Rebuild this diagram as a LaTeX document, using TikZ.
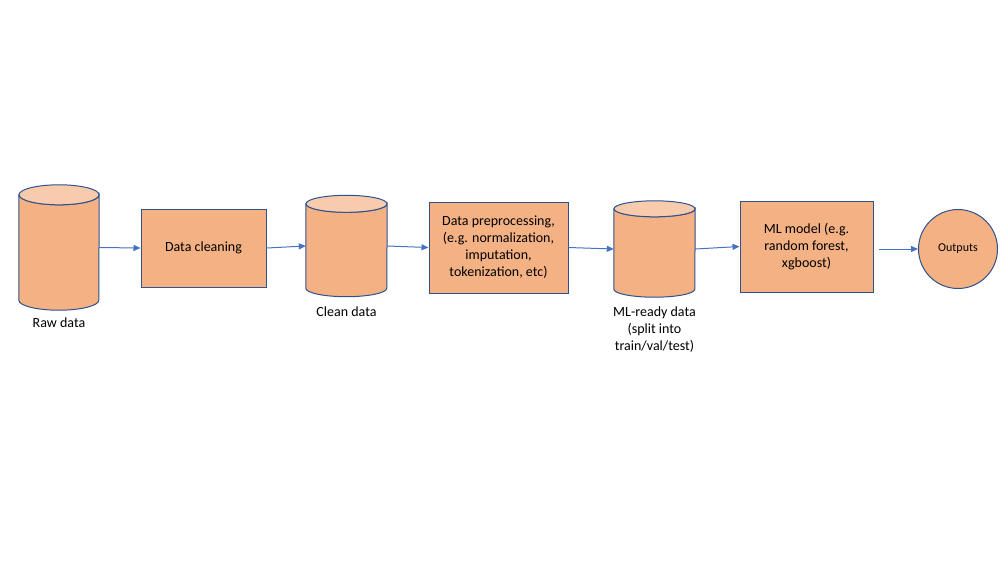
\documentclass[tikz,border=0pt]{standalone}
\usepackage{fontspec}
\setmainfont{Carlito}
\usetikzlibrary{arrows.meta}

\definecolor{boxfill}{HTML}{F4B183}
\definecolor{lidfill}{HTML}{F8CBAD}
\definecolor{edge}{HTML}{2F528F}
\definecolor{flow}{HTML}{4472C4}

\tikzset{
  procbox/.style={draw=edge, fill=boxfill, line width=1pt, inner sep=2pt,
    align=center, font=\fontsize{14}{17}\selectfont},
  cylbody/.style={draw=edge, fill=boxfill, line width=1pt},
  cyllid/.style={draw=edge, fill=lidfill, line width=1pt},
  cyllabel/.style={align=center, inner sep=0pt, font=\fontsize{14}{17}\selectfont},
  endnode/.style={circle, draw=edge, fill=boxfill, line width=1pt, inner sep=0pt,
    font=\fontsize{12}{14}\selectfont},
  flowarrow/.style={draw=flow, line width=1pt, -{Triangle[length=7pt,width=6pt]}}
}

% database cylinder: #1 name, #2 centre x, #3 lid centre y, #4 base centre y, #5 x radius, #6 y radius
\newcommand\dbcylinder[6]{%
  \node[inner sep=0pt, minimum width={(2*#5)*1pt}, minimum height={(#4-#3)*1pt}]
    (#1) at (#2,{-(#3+#4)/2}) {};
  \filldraw[cylbody] (#1.north west) -- (#1.south west)
    arc[start angle=180, end angle=360, x radius=#5pt, y radius=#6pt]
    -- (#1.north east)
    arc[start angle=0, end angle=-180, x radius=#5pt, y radius=#6pt] -- cycle;
  \filldraw[cyllid] (#1.north) ellipse[x radius=#5pt, y radius=#6pt];
}

\begin{document}
\begin{tikzpicture}[x=1pt, y=1pt]
  \useasboundingbox (0,0) rectangle (1000,-563);

  % storage stages
  \dbcylinder{raw}{59}{195}{300}{40}{10}
  \dbcylinder{clean}{346.5}{204}{288}{40.5}{8.5}
  \dbcylinder{mlready}{654.5}{209}{289}{40.5}{8}

  \node[cyllabel] (rawlbl) at (59,-323) {Raw data};
  \node[cyllabel] (cleanlbl) at (346.5,-312) {Clean data};
  \node[cyllabel] (mllbl) at (654.5,-330) {ML-ready data\\(split into\\train/val/test)};

  % processing stages
  \node[procbox, minimum width=125pt, minimum height=78pt] (cleaning) at (203.5,-248)
    {Data cleaning};
  \node[procbox, minimum width=139pt, minimum height=91pt] (prep) at (498.5,-247.5)
    {Data preprocessing,\\(e.g. normalization,\\imputation,\\tokenization, etc)};
  \node[procbox, minimum width=133pt, minimum height=91pt] (model) at (806.5,-246.5)
    {ML model (e.g.\\random forest,\\xgboost)};

  \node[endnode, minimum size=79pt] (out) at (958,-249) {Outputs};

  % data flow
  \draw[flowarrow] (raw.east) -- (cleaning.west);
  \draw[flowarrow] (cleaning.east) -- (clean.west);
  \draw[flowarrow] (clean.east) -- (prep.west);
  \draw[flowarrow] (prep.east) -- (mlready.west);
  \draw[flowarrow] (mlready.east) -- (model.west);
  \draw[flowarrow, shorten <=5pt] (model.east |- out.west) -- (out.west);
\end{tikzpicture}
\end{document}
